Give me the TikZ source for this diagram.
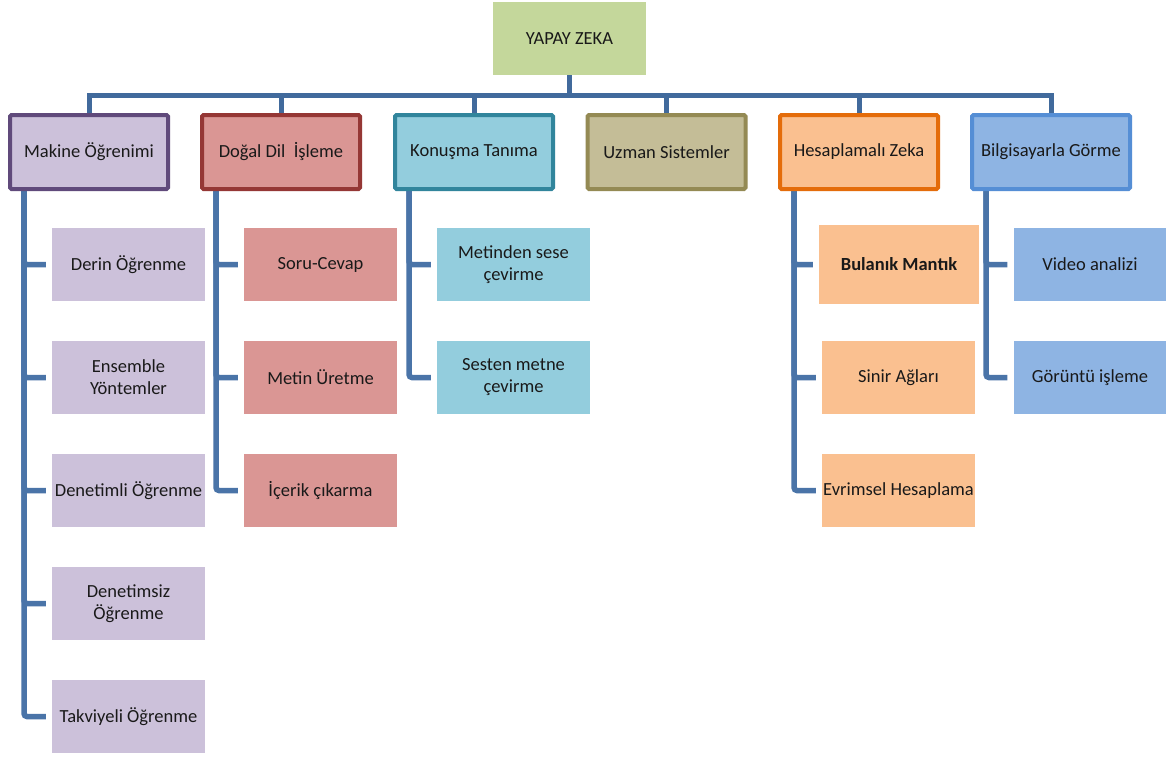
\documentclass[tikz,border=0pt]{standalone}
\usepackage{fontspec}
\setmainfont{Carlito}
\usetikzlibrary{backgrounds}
\definecolor{linkblue}{HTML}{4A74A8}
\definecolor{busblue}{HTML}{416A9C}
\definecolor{rootfill}{HTML}{C4D79B}
\definecolor{mkfill}{HTML}{CCC1DA}\definecolor{mkdraw}{HTML}{604A7B}
\definecolor{ddfill}{HTML}{DA9694}\definecolor{dddraw}{HTML}{953735}
\definecolor{ktfill}{HTML}{93CDDD}\definecolor{ktdraw}{HTML}{31859C}
\definecolor{usfill}{HTML}{C4BD97}\definecolor{usdraw}{HTML}{948A54}
\definecolor{hzfill}{HTML}{FAC090}\definecolor{hzdraw}{HTML}{E46C0A}
\definecolor{bgfill}{HTML}{8EB4E3}\definecolor{bgdraw}{HTML}{558ED5}
\tikzset{
  every node/.style={font=\fontsize{18.5}{22}\selectfont, text=black!90, inner sep=0pt},
  topbox/.style={minimum width=153, minimum height=73, fill=rootfill},
  areabox/.style={minimum width=158, minimum height=74, line width=4pt, rounded corners=1.5pt},
  subbox/.style={minimum width=153, minimum height=73, align=center},
  conn/.style={draw=linkblue, line width=5.5pt, rounded corners=3pt},
  bus/.style={draw=busblue, line width=5pt},
}
\begin{document}
\begin{tikzpicture}[x=1pt,y=-1pt]
\useasboundingbox (0,0) rectangle (1166,756);

% root
\node[topbox] (root) at (569.5,38.5) {YAPAY ZEKA};

% main areas
\node[areabox, fill=mkfill, draw=mkdraw] (mk) at (89,152) {Makine Öğrenimi};
\node[areabox, fill=ddfill, draw=dddraw] (dd) at (281,152) {Doğal Dil\ \ İşleme};
\node[areabox, fill=ktfill, draw=ktdraw] (kt) at (474,152) {Konuşma Tanıma};
\node[areabox, fill=usfill, draw=usdraw] (us) at (666.5,152) {Uzman Sistemler};
\node[areabox, fill=hzfill, draw=hzdraw] (hz) at (859,152) {Hesaplamalı Zeka};
\node[areabox, fill=bgfill, draw=bgdraw] (bg) at (1051,152) {Bilgisayarla Görme};

% Makine Öğrenimi
\node[subbox, fill=mkfill] (mk1) at (128.5,264.5) {Derin Öğrenme};
\node[subbox, fill=mkfill] (mk2) at (128.5,377.5) {Ensemble\\Yöntemler};
\node[subbox, fill=mkfill] (mk3) at (128.5,490.5) {Denetimli Öğrenme};
\node[subbox, fill=mkfill] (mk4) at (128.5,603.5) {Denetimsiz\\Öğrenme};
\node[subbox, fill=mkfill] (mk5) at (128.5,716.5) {Takviyeli Öğrenme};

% Doğal Dil İşleme
\node[subbox, fill=ddfill] (dd1) at (320.5,264.5) {Soru-Cevap};
\node[subbox, fill=ddfill] (dd2) at (320.5,377.5) {Metin Üretme};
\node[subbox, fill=ddfill] (dd3) at (320.5,490.5) {İçerik çıkarma};

% Konuşma Tanıma
\node[subbox, fill=ktfill] (kt1) at (513.5,264.5) {Metinden sese\\çevirme};
\node[subbox, fill=ktfill] (kt2) at (513.5,377.5) {Sesten metne\\çevirme};

% Hesaplamalı Zeka
\node[subbox, fill=hzfill, minimum width=160, minimum height=79, font=\fontsize{18.5}{22}\selectfont\bfseries] (hz1) at (899,264.5) {Bulanık Mantık};
\node[subbox, fill=hzfill] (hz2) at (898.5,377.5) {Sinir Ağları};
\node[subbox, fill=hzfill] (hz3) at (898.5,490.5) {Evrimsel Hesaplama};

% Bilgisayarla Görme
\node[subbox, fill=bgfill] (bg1) at (1090,264.5) {Video analizi};
\node[subbox, fill=bgfill] (bg2) at (1090,377.5) {Görüntü işleme};

\begin{scope}[on background layer]
  \fill[white] (0,0) rectangle (1166,756);
  % bus from the root to each area
  \foreach \a in {mk,dd,kt,us,hz,bg}
    \draw[bus] (root.south) -- ++(0,20) -| (\a.north);
  % branches to the sub-topics
  \foreach \a/\list in {mk/{mk1,mk2,mk3,mk4,mk5}, dd/{dd1,dd2,dd3}, kt/{kt1,kt2}, hz/{hz1,hz2,hz3}, bg/{bg1,bg2}}
    \foreach \c in \list
      \draw[conn] ([xshift=16pt]\a.south west) |- ([xshift=-6pt]\c.west);
\end{scope}
\end{tikzpicture}
\end{document}
